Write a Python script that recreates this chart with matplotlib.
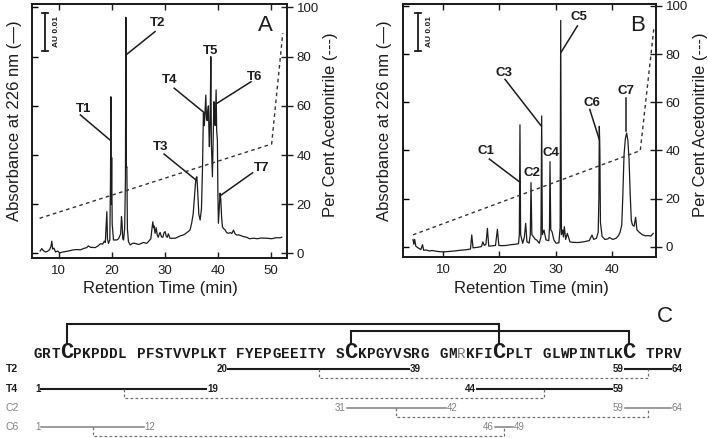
import matplotlib
matplotlib.use('Agg')
import matplotlib.pyplot as plt

plt.rcParams['font.family'] = ['Liberation Sans', 'DejaVu Sans']

# ---------------- data: panel A (tryptic digest) ----------------
time_A = [6.5, 6.8, 7.1, 7.5, 7.9, 8.3, 8.55, 8.7, 8.85, 9.1, 9.4, 9.8, 10.2, 10.7, 11.3,
          12.0, 12.8, 13.5, 14.1, 14.8, 15.3, 15.6, 16.0, 16.9, 17.5, 17.9, 18.3, 18.6,
          18.8, 18.95, 19.09, 19.2, 19.4, 19.65, 19.78, 19.85, 19.92, 20.0, 20.1, 20.34,
          20.98, 21.3, 21.7, 21.85, 21.95, 22.1, 22.25, 22.45, 22.6, 22.68, 22.76, 22.87,
          22.97, 23.17, 23.5, 24.0, 24.43, 25.0, 25.4, 26.0, 26.6, 27.0, 27.4, 27.6, 27.77,
          27.9, 28.0, 28.2, 28.4, 28.6, 28.8, 29.0, 29.15, 29.4, 29.65, 29.9, 30.1, 30.3,
          30.5, 30.7, 31.0, 31.4, 32.0, 32.6, 33.0, 33.5, 33.9, 34.2, 34.5, 34.8, 35.1,
          35.4, 35.6, 35.8, 35.94, 36.08, 36.25, 36.45, 36.7, 36.95, 37.15, 37.32, 37.5,
          37.77, 37.9, 38.02, 38.15, 38.26, 38.38, 38.45, 38.6, 38.72, 38.82, 38.92, 39.02,
          39.15, 39.3, 39.4, 39.55, 39.72, 39.82, 39.96, 40.05, 40.15, 40.3, 40.47, 40.6,
          40.75, 40.91, 41.1, 41.42, 41.7, 42.04, 42.4, 42.68, 43.0, 43.3, 43.62, 44.0,
          44.57, 45.0, 45.5, 46.0, 46.8, 47.5, 48.2, 49.3, 50.2, 51.0, 51.8, 52.1]
abs_A = [1.0, 2.0, 1.2, 0.6, 0.9, 1.6, 3.0, 5.0, 1.8, 2.2, 0.6, 1.0, 0.2, 0.6, 0.8,
         1.1, 1.5, 1.6, 1.5, 2.1, 2.4, 3.1, 2.5, 2.4, 3.2, 4.0, 3.8, 5.0,
         4.5, 11.0, 17.0, 6.0, 4.1, 5.5, 30.0, 63.7, 20.0, 39.0, 12.0, 5.5,
         5.5, 6.0, 8.0, 15.0, 13.0, 6.0, 5.5, 10.0, 30.0, 96.0, 35.0, 35.3,
         10.0, 4.8, 3.5, 4.2, 4.1, 3.7, 3.9, 4.5, 4.1, 5.0, 6.0, 10.0, 12.9,
         10.5, 11.2, 8.2, 10.5, 7.5, 6.6, 8.0, 8.5, 6.8, 6.6, 8.5, 8.9, 7.0,
         6.6, 8.0, 6.2, 6.2, 6.2, 6.8, 7.2, 7.5, 8.0, 8.5, 9.0, 9.6, 12.3,
         16.3, 22.0, 28.0, 30.6, 31.2, 25.0, 16.0, 13.6, 18.0, 35.0, 57.0, 52.0,
         64.4, 55.0, 54.0, 58.0, 60.0, 48.0, 43.4, 55.0, 80.0, 45.0, 38.0, 31.2,
         45.0, 61.7, 55.0, 52.0, 66.5, 50.0, 46.0, 25.0, 12.3, 18.0, 24.5, 22.0,
         15.0, 10.9, 10.2, 9.6, 8.5, 8.2, 8.5, 8.1, 9.5, 8.0, 7.5, 7.6,
         7.1, 6.8, 6.6, 6.0, 6.2, 6.0, 6.3, 6.2, 6.0, 6.4, 6.4, 6.6]
grad_time_A = [6.4, 50.2, 52.3]
grad_pct_A = [14.3, 44.5, 89.5]

# ---------------- data: panel B (chymotryptic digest) ----------------
time_B = [4.6, 4.75, 4.9, 5.1, 5.5, 6.0, 6.3, 6.5, 7.0, 7.5, 8.0, 9.0, 10.0, 11.0, 12.0,
          13.0, 14.0, 14.85, 15.07, 15.3, 16.0, 16.8, 17.05, 17.3, 17.6, 17.86, 18.1,
          18.6, 19.3, 19.64, 19.9, 20.5, 21.2, 22.0, 22.8, 23.4, 23.55, 23.66, 23.78,
          24.15, 24.45, 24.68, 24.9, 25.3, 25.5, 25.63, 25.78, 26.03, 26.4, 26.64, 27.1,
          27.4, 27.53, 27.65, 27.94, 28.3, 28.8, 28.92, 29.01, 29.15, 29.37, 29.7, 30.1,
          30.6, 30.82, 30.92, 31.05, 31.27, 31.4, 31.56, 31.8, 32.1, 32.57, 33.0, 34.0,
          35.0, 36.0, 36.5, 36.8, 37.3, 37.6, 37.72, 37.8, 37.9, 38.0, 38.3, 38.8, 39.3,
          39.6, 40.2, 40.8, 41.2, 41.5, 41.8, 42.0, 42.2, 42.45, 42.67, 42.9, 43.1, 43.3,
          43.5, 43.7, 44.0, 44.27, 44.5, 44.9, 45.5, 46.0, 46.5, 47.0, 47.4]
abs_B = [3.0, 1.0, 3.0, 0.2, -0.5, -1.2, 0.8, -1.5, -1.4, -1.8, -1.6, -2.0, -2.2, -2.0, -1.8,
         -1.5, -1.3, -1.0, 4.9, -0.5, -0.3, 0.0, 2.0, 0.5, 1.0, 7.6, 0.2,
         0.3, 0.5, 7.2, 0.5, 0.4, 0.5, 0.8, 1.0, 1.2, 5.0, 50.6, 5.0,
         1.4, 4.0, 9.7, 2.0, 1.5, 5.0, 26.6, 5.0, 4.2, 3.0, 2.8, 1.4,
         4.0, 54.3, 5.0, 6.9, 2.8, 2.5, 8.0, 35.3, 7.0, 6.2, 2.8, 1.4,
         1.6, 8.0, 94.0, 5.0, 6.9, 4.0, 8.3, 3.0, 5.5, 2.0, 1.8, 1.7,
         2.0, 2.5, 4.8, 3.0, 3.5, 6.0, 20.0, 50.0, 40.0, 10.0, 4.2, 3.0, 3.2,
         3.8, 3.0, 3.5, 4.5, 6.0, 9.0, 22.0, 38.0, 45.0, 47.2, 44.0, 36.0, 22.0,
         11.0, 9.0, 8.5, 12.2, 7.0, 6.0, 4.9, 4.5, 4.6, 4.4, 5.5]
grad_time_B = [4.6, 45.1, 47.5]
grad_pct_B = [4.9, 39.9, 90.3]

pct_ticks = [0, 20, 40, 60, 80, 100]
xticks_A = [10, 20, 30, 40, 50]
xticks_B = [10, 20, 30, 40]

# peak labels: (text x, text y, line start, line end)
labels_A = ['T1', 'T2', 'T3', 'T4', 'T5', 'T6', 'T7']
labels_B = ['C1', 'C2', 'C3', 'C4', 'C5', 'C6', 'C7']
layout_A = [(14.6, 58.6, (14.1, 56.3), (19.7, 46.1)),
            (28.6, 93.7, (28.2, 90.2), (22.7, 80.7)),
            (29.3, 43.4, (29.9, 40.4), (35.9, 29.9)),
            (31.0, 70.5, (31.8, 67.2), (37.6, 57.0)),
            (38.7, 82.5, None, None),
            (46.9, 71.9, (46.3, 69.8), (39.7, 60.8)),
            (48.3, 34.9, (46.6, 32.8), (40.7, 23.8))]
layout_B = [(17.6, 39.6, (18.2, 36.4), (23.7, 26.7)),
            (25.8, 30.8, None, None),
            (20.9, 72.2, (21.0, 69.5), (27.4, 50.3)),
            (29.2, 38.8, None, None),
            (34.1, 95.2, (33.9, 91.7), (31.0, 80.8)),
            (36.5, 59.7, (36.1, 57.0), (37.8, 44.5)),
            (42.6, 64.6, (42.6, 61.8), (42.6, 47.9))]

# ---------------- data: panel C (sequence and fragments) ----------------
sequence = "GRTCPKPDDL PFSTVVPLKT FYEPGEEITY SCKPGYVSRG GMRKFICPLT GLWPINTLKC TPRV"
disulfide_pairs = [(4, 47), (32, 60)]
fragment_names = ['T2', 'T4', 'C2', 'C6']
fragment_first = [(20, 39), (1, 19), (31, 42), (1, 12)]
fragment_second = [(59, 64), (44, 59), (59, 64), (46, 49)]

# ---------------- figure ----------------
W, H = 708, 438
fig = plt.figure(figsize=(W / 100, H / 100), dpi=100)


def rect(l, t, r, b):
    return [l / W, 1 - b / H, (r - l) / W, (b - t) / H]


axA = fig.add_axes(rect(32, 4, 287, 258))
axB = fig.add_axes(rect(403, 4, 656, 257))

ink = '#1c1c1c'


def panel(ax, t, a, gt, gp, xlim, ylim, xticks, labels, layout, letter, letter_x, bar_x):
    ax.plot(t, a, color=ink, lw=0.9, zorder=3)
    ax2 = ax.twinx()
    ax2.plot(gt, gp, color='#333333', lw=1.0, ls=(0, (2.6, 2.4)))
    ax.set_xlim(*xlim)
    ax.set_ylim(*ylim)
    ax2.set_ylim(*ylim)
    ax.set_xticks(xticks)
    ax.set_yticks(pct_ticks)
    ax.set_yticklabels([])
    ax.tick_params(axis='x', direction='in', top=True, bottom=True, length=4, width=1,
                   labelsize=9.5, pad=5, colors=ink)
    ax.tick_params(axis='y', direction='in', left=True, right=False, length=4, width=1)
    ax2.set_yticks(pct_ticks)
    ax2.tick_params(axis='y', direction='inout', length=8, width=1, labelsize=9.5, pad=3,
                    colors=ink)
    for a_ in (ax, ax2):
        for sp in a_.spines.values():
            sp.set_linewidth(1.3)
            sp.set_color(ink)
    for name, (tx, ty, p0, p1) in zip(labels, layout):
        ax.text(tx, ty, name, ha='center', va='center', fontsize=9.5, fontweight='bold',
                color=ink, zorder=5)
        if p0 is not None:
            ax.plot([p0[0], p1[0]], [p0[1], p1[1]], color=ink, lw=1.1, zorder=4)
    ax.text(letter_x, 0.915, letter, transform=ax.transAxes, fontsize=16, ha='center',
            va='center', color=ink)
    # scale bar 0.01 AU
    ax.plot([bar_x, bar_x], [0.815, 0.965], transform=ax.transAxes, color=ink, lw=1.3)
    for yy in (0.815, 0.965):
        ax.plot([bar_x - 0.012, bar_x + 0.012], [yy, yy], transform=ax.transAxes,
                color=ink, lw=1.3)
    ax.text(bar_x + 0.047, 0.89, 'AU 0.01', transform=ax.transAxes, rotation=90,
            fontsize=6, fontweight='bold', ha='center', va='center', color=ink)


panel(axA, time_A, abs_A, grad_time_A, grad_pct_A, (4.96, 53.1), (-1.83, 101.4),
      xticks_A, labels_A, layout_A, 'A', 0.914, 0.051)
panel(axB, time_B, abs_B, grad_time_B, grad_pct_B, (2.82, 47.9), (-4.3, 100.8),
      xticks_B, labels_B, layout_B, 'B', 0.929, 0.059)


def ftext(x, y, s, **kw):
    fig.text(x / W, 1 - y / H, s, **kw)


lab = dict(fontsize=12, color=ink, ha='center', va='center')
ftext(15, 121, 'Absorbance at 226 nm (\u2014)', rotation=90, **lab)
ftext(331, 125, 'Per Cent Acetonitrile (---)', rotation=90, **lab)
ftext(160, 288, 'Retention Time (min)', **lab)
ftext(384, 121, 'Absorbance at 226 nm (\u2014)', rotation=90, **lab)
ftext(700, 125, 'Per Cent Acetonitrile (---)', rotation=90, **lab)
ftext(531, 288, 'Retention Time (min)', **lab)

# ---------------- panel C ----------------
axC = fig.add_axes([0, 0, 1, 1])
axC.set_xlim(0, W)
axC.set_ylim(H, 0)
axC.set_axis_off()
axC.patch.set_visible(False)

x = 33.3
centers = []
residues = []
for ch in sequence:
    if ch == ' ':
        x += 10
        continue
    w = 12.8 if ch == 'C' else 8.95
    centers.append(x + w / 2)
    residues.append(ch)
    x += w

base_y = 358
for i, (ch, cx) in enumerate(zip(residues, centers)):
    big = ch == 'C'
    col = '#7a7a7a' if i + 1 == 43 else ink
    axC.text(cx, base_y, ch, ha='center', va='baseline', family='Liberation Mono',
             fontweight='normal' if i + 1 == 43 else 'bold',
             fontsize=16 if big else 10.3, color=col)

# disulfide brackets
bracket_tops = [323.5, 331]
for (a, b), yt in zip(disulfide_pairs, bracket_tops):
    xa, xb = centers[a - 1], centers[b - 1]
    axC.plot([xa, xa, xb, xb], [344, yt, yt, 344], color=ink, lw=1.5,
             solid_joinstyle='miter')

axC.text(665, 317, 'C', fontsize=16, ha='center', va='center', color=ink)

row_y = [369, 388.5, 408.3, 427]
for name, f1, f2, ry in zip(fragment_names, fragment_first, fragment_second, row_y):
    tryptic = name.startswith('T')
    col = ink if tryptic else '#808080'
    fw = 'bold' if tryptic else 'normal'
    lw = 1.5 if tryptic else 1.1
    axC.text(12, ry, name, fontsize=7.5, fontweight=fw, color=col, ha='center', va='center')
    mids = []
    for (a, b) in (f1, f2):
        xa, xb = centers[a - 1], centers[b - 1]
        ha_ = len(str(a)) * 2.7 + 1.0
        hb_ = len(str(b)) * 2.7 + 1.0
        axC.text(xa, ry, str(a), fontsize=7, fontweight=fw, color=col, ha='center', va='center')
        axC.text(xb, ry, str(b), fontsize=7, fontweight=fw, color=col, ha='center', va='center')
        axC.plot([xa + ha_, xb - hb_], [ry, ry], color=col, lw=lw)
        mids.append((xa + ha_ + xb - hb_) / 2)
    axC.plot([mids[0], mids[0], mids[1], mids[1]], [ry, ry + 9, ry + 9, ry],
             color='#707070', lw=0.9, ls=(0, (2.2, 1.8)))

fig.savefig('out.png', dpi=100)
